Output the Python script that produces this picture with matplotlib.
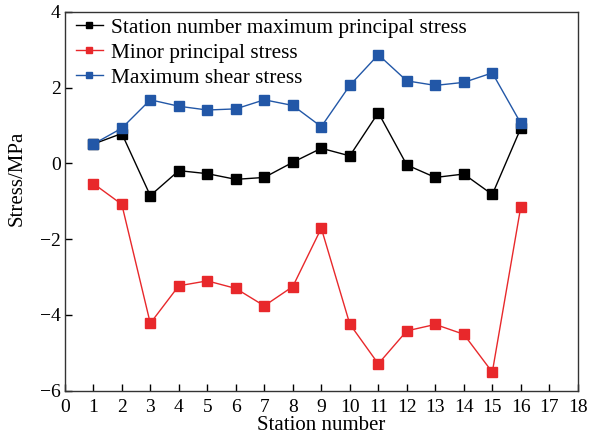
import numpy as np
import matplotlib
matplotlib.use("Agg")
import matplotlib.pyplot as plt

plt.rcParams["font.family"] = ["Liberation Serif", "DejaVu Serif"]

# station numbers and stress values (MPa)
stations = [1, 2, 3, 4, 5, 6, 7, 8, 9, 10, 11, 12, 13, 14, 15, 16]
max_principal = [0.51, 0.79, -0.85, -0.19, -0.27, -0.42, -0.37, 0.03,
                 0.40, 0.20, 1.34, -0.04, -0.37, -0.28, -0.82, 0.93]
minor_principal = [-0.53, -1.08, -4.22, -3.23, -3.10, -3.30, -3.76, -3.25,
                   -1.71, -4.24, -5.29, -4.42, -4.25, -4.51, -5.51, -1.14]
max_shear = [0.51, 0.93, 1.68, 1.51, 1.41, 1.44, 1.68, 1.53,
             0.97, 2.06, 2.87, 2.18, 2.06, 2.14, 2.39, 1.06]

fig = plt.figure(figsize=(5.89, 4.41), dpi=100)
ax = fig.add_axes([0.110, 0.114, 0.871, 0.859])

ax.plot(stations, max_principal, color="black", marker="s", markersize=7,
        linewidth=1, label="Station number maximum principal stress")
ax.plot(stations, minor_principal, color="#e8282b", marker="s", markersize=7,
        linewidth=1, label="Minor principal stress")
ax.plot(stations, max_shear, color="#2257a7", marker="s", markersize=7,
        linewidth=1, label="Maximum shear stress")

ax.set_xlim(0, 18)
ax.set_ylim(-6, 4)
ax.set_xticks(range(0, 19))
ax.set_yticks([-6, -4, -2, 0, 2, 4])
ax.set_yticklabels(["\u22126", "\u22124", "\u22122", "0", "2", "4"])
ax.tick_params(direction="in", labelsize=14, length=5, width=1)
ax.tick_params(axis="x", pad=6)
ax.tick_params(axis="y", pad=3)
for s in ax.spines.values():
    s.set_linewidth(1)
    s.set_color("#333333")

ax.set_xlabel("Station number", fontsize=15, labelpad=0)
ax.set_ylabel("Stress/MPa", fontsize=15)
ax.yaxis.set_label_coords(-0.075, 0.56)

ax.legend(loc="upper left", bbox_to_anchor=(0.021, 0.986), frameon=False,
          fontsize=15.3, handlelength=1.25, handletextpad=0.4,
          labelspacing=0.25, borderaxespad=0, borderpad=0.02,
          markerscale=0.65)

fig.savefig("out.png", dpi=100)
